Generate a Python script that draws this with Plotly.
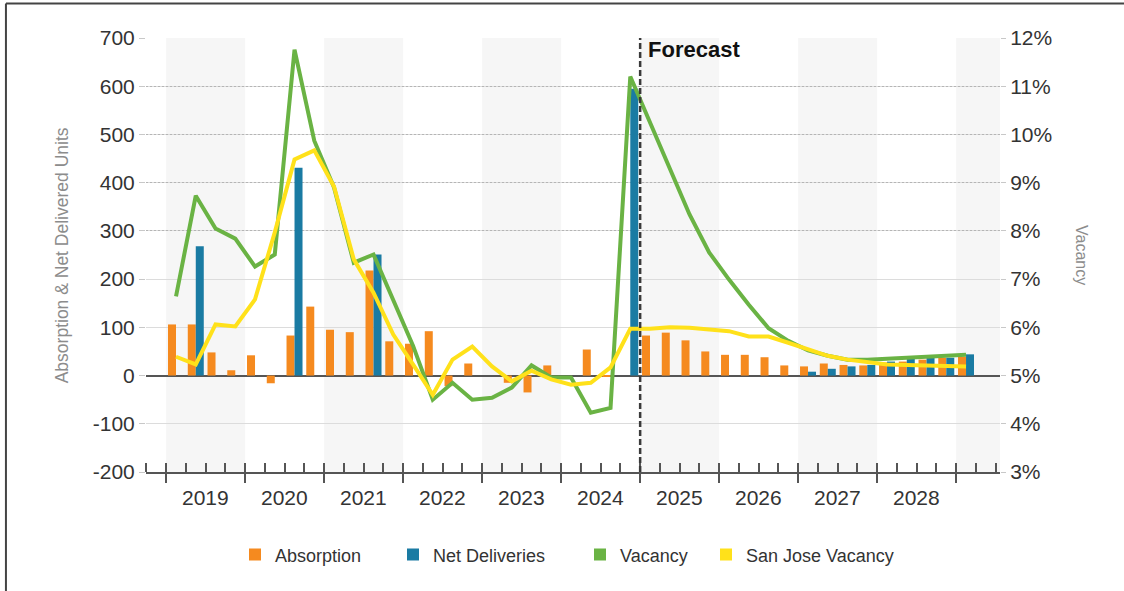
import plotly.graph_objects as go

# Quarterly series, 2019 Q1 through 2029 Q1
years = [2019, 2020, 2021, 2022, 2023, 2024, 2025, 2026, 2027, 2028]
forecast_start_year = 2025

absorption = [106, 106, 48, 11, 42, -16, 83, 143, 95, 90, 218, 71, 66, 92, -22, 25,
              0, -15, -35, 21, 0, 54, -3, 0, 83, 89, 73, 50, 43, 43, 38, 21,
              19, 25, 22, 21, 27, 29, 33, 37, 39]
net_deliveries = [0, 268, 0, 0, 0, 0, 431, 0, 0, 0, 251, 0, 0, 0, 0, 0,
                  0, 0, 0, 0, 0, 0, 0, 595, 0, 0, 0, 0, 0, 0, 0, 0,
                  8, 14, 19, 22, 29, 35, 37, 37, 44]
vacancy = [6.64, 8.73, 8.05, 7.84, 7.26, 7.51, 11.76, 9.87, 8.9, 7.34, 7.51, 6.58,
           5.62, 4.5, 4.85, 4.5, 4.54, 4.75, 5.21, 4.96, 4.96, 4.23, 4.33, 11.2,
           10.25, 9.27, 8.34, 7.55, 6.99, 6.47, 5.98, 5.72, 5.52, 5.41, 5.33, 5.33,
           5.35, 5.37, 5.39, 5.41, 5.43]
sj_vacancy = [5.39, 5.23, 6.06, 6.02, 6.58, 7.97, 9.48, 9.67, 8.92, 7.41, 6.72, 5.85,
              5.23, 4.6, 5.33, 5.6, 5.19, 4.88, 5.1, 4.92, 4.81, 4.85, 5.17, 5.97,
              5.97, 6.0, 5.99, 5.95, 5.92, 5.81, 5.81, 5.68, 5.54, 5.41, 5.33, 5.27,
              5.23, 5.22, 5.21, 5.2, 5.19]

left_ticks = [-200, -100, 0, 100, 200, 300, 400, 500, 600, 700]
right_ticks = [3, 4, 5, 6, 7, 8, 9, 10, 11, 12]

ORANGE = "#F58A1F"
BLUE = "#1A7BA3"
GREEN = "#6AB344"
YELLOW = "#FFE11A"
FONT = "Liberation Sans, Arial, sans-serif"
TXT = "#333333"
TICK_SIZE = 21

q = list(range(len(absorption)))  # quarter index, 0 = 2019 Q1

fig = go.Figure()

fig.add_trace(go.Bar(x=q, y=absorption, name="Absorption", marker_color=ORANGE,
                     marker_line_width=0, legend="legend"))
fig.add_trace(go.Bar(x=q, y=net_deliveries, name="Net Deliveries", marker_color=BLUE,
                     marker_line_width=0, legend="legend2"))
fig.add_trace(go.Scatter(x=q, y=vacancy, yaxis="y2", mode="lines", name="Vacancy",
                         line=dict(color=GREEN, width=4), showlegend=False))
fig.add_trace(go.Scatter(x=q, y=sj_vacancy, yaxis="y2", mode="lines",
                         name="San Jose Vacancy",
                         line=dict(color=YELLOW, width=4), showlegend=False))

# square legend keys for the two line series
for nm, col, lg in [("Vacancy", GREEN, "legend3"), ("San Jose Vacancy", YELLOW, "legend4")]:
    fig.add_trace(go.Scatter(x=[None], y=[None], mode="markers", name=nm, legend=lg,
                             marker=dict(symbol="square", size=12, color=col)))

# helper traces so the overlay axes (year ticks, upper dotted grid) are drawn
fig.add_trace(go.Scatter(x=[None], y=[None], xaxis="x2", showlegend=False,
                         hoverinfo="skip"))
fig.add_trace(go.Scatter(x=[None], y=[None], yaxis="y3", showlegend=False,
                         hoverinfo="skip"))

x_range = [-1.52, 41.72]
first_year = years[0]

shapes = []
# alternating light bands for every other year
for k in range(0, len(years) + 1, 2):
    x0 = 4 * k - 0.5
    shapes.append(dict(type="rect", xref="x", yref="y", x0=x0, x1=min(x0 + 4, x_range[1]),
                       y0=left_ticks[0], y1=left_ticks[-1], fillcolor="#F6F6F6",
                       line_width=0, layer="below"))

# forecast divider
fx = 4 * (forecast_start_year - first_year) - 0.5
shapes.append(dict(type="line", xref="x", yref="y", x0=fx, x1=fx,
                   y0=left_ticks[0], y1=left_ticks[-1],
                   line=dict(color="#3A3A3A", width=2.5, dash="6px,3px"), layer="above"))

# page frame (top and left edges)
shapes.append(dict(type="line", xref="paper", yref="paper", x0=-0.164, x1=1.15,
                   y0=1.0795, y1=1.0795, line=dict(color="#444", width=2)))
shapes.append(dict(type="line", xref="paper", yref="paper", x0=-0.164, x1=-0.164,
                   y0=1.0795, y1=-0.28, line=dict(color="#444", width=2)))

annotations = []
for i, yr in enumerate(years):
    annotations.append(dict(x=4 * i + 1.5, y=-0.058, xref="x", yref="paper",
                            text=str(yr), showarrow=False, yanchor="middle",
                            font=dict(family=FONT, size=TICK_SIZE, color=TXT)))
annotations.append(dict(x=fx, y=676, xref="x", yref="y", text="<b>Forecast</b>",
                        showarrow=False, xanchor="left", yanchor="middle", xshift=6,
                        font=dict(family=FONT, size=22, color="#111")))
annotations.append(dict(x=-0.098, y=0.5, xref="paper", yref="paper",
                        text="Absorption & Net Delivered Units", textangle=-90,
                        xanchor="center", yanchor="middle",
                        showarrow=False, font=dict(family=FONT, size=17.5, color="#8C8C8C")))
annotations.append(dict(x=1.096, y=0.5, xref="paper", yref="paper", text="Vacancy",
                        textangle=90, xanchor="center", yanchor="middle", showarrow=False,
                        font=dict(family=FONT, size=16, color="#8C8C8C")))


def legend_at(px):
    return dict(orientation="h", x=(px - 146) / 854, xanchor="left", y=-0.191,
                yanchor="middle", font=dict(family=FONT, size=18, color=TXT),
                itemclick=False, bgcolor="rgba(0,0,0,0)")


fig.update_layout(
    width=1124, height=591,
    margin=dict(l=146, r=124, t=38, b=119),
    paper_bgcolor="white", plot_bgcolor="white",
    barmode="group", bargap=0.19, bargroupgap=0,
    font=dict(family=FONT, color=TXT),
    shapes=shapes, annotations=annotations,
    showlegend=True,
    legend=legend_at(235), legend2=legend_at(393),
    legend3=legend_at(580), legend4=legend_at(706),
    xaxis=dict(range=x_range, showgrid=False, zeroline=False,
               tickmode="linear", tick0=-0.5, dtick=4, ticks="outside", ticklen=9,
               tickwidth=2, tickcolor="#555", showticklabels=False,
               showline=True, linecolor="#555", linewidth=2,
               minor=dict(ticks="inside", tick0=-0.5, dtick=1, ticklen=9,
                          tickwidth=1.5, tickcolor="#555")),
    xaxis2=dict(range=x_range, overlaying="x", anchor="y", side="bottom",
                showgrid=False, zeroline=False, showline=False,
                tickmode="linear", tick0=-0.5, dtick=4, ticks="inside", ticklen=9,
                tickwidth=2, tickcolor="#555", showticklabels=False),
    yaxis=dict(range=[left_ticks[0], left_ticks[-1]], tickmode="array",
               tickvals=left_ticks, ticktext=[str(v) for v in left_ticks],
               showgrid=True, gridcolor="#DCDCDC", gridwidth=1,
               zeroline=True, zerolinecolor="#555", zerolinewidth=2,
               ticks="outside", ticklen=6, tickcolor="#C8C8C8",
               tickfont=dict(family=FONT, size=TICK_SIZE, color=TXT), showline=False),
    yaxis2=dict(range=[right_ticks[0], right_ticks[-1]], tickmode="array",
                tickvals=right_ticks, ticktext=[f"{v}%" for v in right_ticks],
                overlaying="y", side="right", anchor="x",
                showgrid=False, zeroline=False, ticks="outside", ticklen=5,
                tickcolor="#C8C8C8", tickfont=dict(family=FONT, size=TICK_SIZE, color=TXT)),
    yaxis3=dict(range=[left_ticks[0], left_ticks[-1]], tickvals=left_ticks[5:],
                overlaying="y", anchor="x", showticklabels=False, showgrid=True,
                gridcolor="#B5B5B5", griddash="2px,2px", gridwidth=1,
                zeroline=False, ticks=""),
)

fig.write_html("out.html")
